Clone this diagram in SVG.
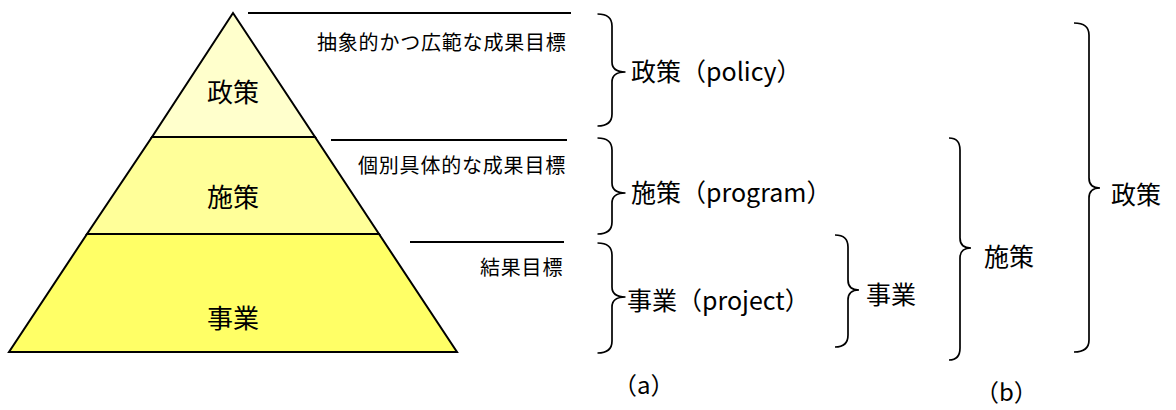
<svg xmlns="http://www.w3.org/2000/svg" width="1176" height="410" viewBox="0 0 1176 410">
<style>
text{font-family:"Noto Sans CJK JP","Noto Sans",sans-serif;fill:#000}
.tier{stroke:#000;stroke-width:2;stroke-linejoin:miter}
.ann{font-size:20px;letter-spacing:0.8px}
.lbl{font-size:25px}
.cap{font-size:24px}
.pl{font-size:26px;text-anchor:middle}
.br{fill:none;stroke:#000;stroke-width:1.7}
.ln{stroke:#000;stroke-width:2}
</style>
<rect width="1176" height="410" fill="#fff"/>
<g id="tier-policy">
<polygon class="tier" points="233,13 315,137 152,137" fill="#FFFFCC"/>
<text class="pl" x="233" y="102">政策</text>
</g>
<g id="tier-program">
<polygon class="tier" points="152,137 315,137 379,234 87,234" fill="#FFFF99"/>
<text class="pl" x="233" y="207">施策</text>
</g>
<g id="tier-project">
<polygon class="tier" points="87,234 379,234 457,352 9,352" fill="#FFFF66"/>
<text class="pl" x="233" y="328">事業</text>
</g>
<g id="annotations">
<text class="ann" x="317" y="50">抽象的かつ広範な成果目標</text>
<text class="ann" x="358" y="173">個別具体的な成果目標</text>
<text class="ann" x="480" y="275">結果目標</text>
</g>
<g id="connectors">
<line class="ln" x1="248" y1="13" x2="571" y2="13"/>
<line class="ln" x1="331" y1="140" x2="567" y2="140"/>
<line class="ln" x1="410" y1="242" x2="564" y2="242"/>
<path class="br" d="M597.5,14 Q612,14 612,26 L612,62 Q612,72 625.5,72 Q612,72 612,82 L612,114 Q612,126 597.5,126"/>
<path class="br" d="M597.5,138 Q612,138 612,150 L612,183 Q612,193 625.5,193 Q612,193 612,203 L612,222 Q612,234 597.5,234"/>
<path class="br" d="M597.5,243 Q612,243 612,255 L612,287 Q612,297 625.5,297 Q612,297 612,307 L612,341 Q612,353 597.5,353"/>
<path class="br" d="M835,235 Q848,235 848,247 L848,280 Q848,290 859,290 Q848,290 848,300 L848,335 Q848,347 835,347"/>
<path class="br" d="M949,138 Q960,138 960,150 L960,238 Q960,248 971,248 Q960,248 960,258 L960,348 Q960,360 949,360"/>
<path class="br" d="M1074,23 Q1089,23 1089,35 L1089,178 Q1089,188 1100,188 Q1089,188 1089,198 L1089,340 Q1089,352 1074,352"/>
</g>
<g id="label-a-policy"><text class="lbl" x="631" y="81">政策（policy）</text></g>
<g id="label-a-program"><text class="lbl" x="631" y="202">施策（program）</text></g>
<g id="label-a-project"><text class="lbl" x="627" y="310">事業（project）</text></g>
<g id="label-b-project"><text class="lbl" x="866" y="304">事業</text></g>
<g id="label-b-program"><text class="lbl" x="984" y="266">施策</text></g>
<g id="label-b-policy"><text class="lbl" x="1111" y="204">政策</text></g>
<g id="caption-a"><text class="cap" x="613" y="394">（a）</text></g>
<g id="caption-b"><text class="cap" x="975" y="401">（b）</text></g>
</svg>
